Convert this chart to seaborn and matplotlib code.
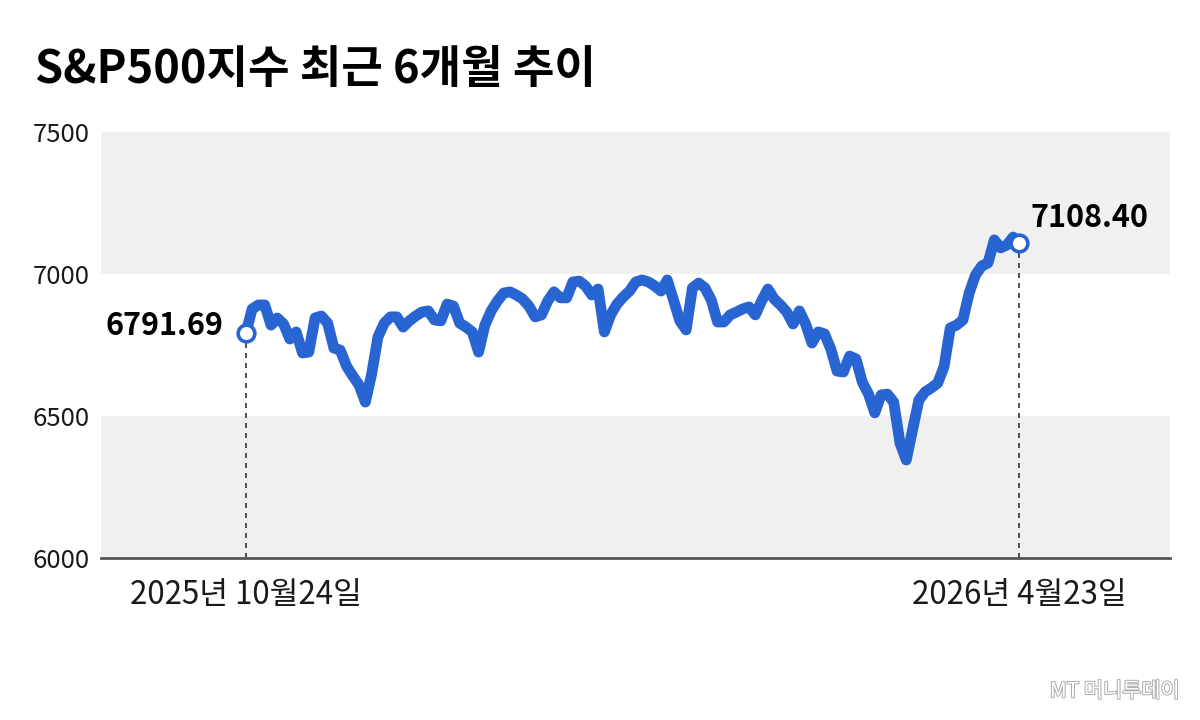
import matplotlib
matplotlib.use("Agg")
import matplotlib.pyplot as plt
import matplotlib.patheffects as pe
import seaborn as sns
import numpy as np
import pandas as pd

# S&P500 closes, one per trading day
close = [
    6791.69, 6877, 6891, 6891, 6820, 6845, 6824, 6771, 6796, 6722,
    6725, 6845, 6852, 6827, 6739, 6732, 6676, 6641, 6609, 6549,
    6648, 6778, 6827, 6849, 6849, 6813, 6835, 6852, 6866, 6870,
    6838, 6835, 6894, 6887, 6827, 6813, 6796, 6725, 6820, 6870,
    6905, 6933, 6937, 6926, 6912, 6887, 6849, 6856, 6905, 6937,
    6916, 6916, 6972, 6975, 6958, 6926, 6947, 6796, 6856, 6894,
    6919, 6940, 6972, 6979, 6972, 6958, 6940, 6979, 6908, 6835,
    6803, 6951, 6968, 6951, 6908, 6831, 6831, 6856, 6866, 6877,
    6884, 6856, 6905, 6947, 6912, 6891, 6866, 6824, 6870, 6824,
    6757, 6796, 6789, 6736, 6658, 6655, 6711, 6701, 6620, 6577,
    6511, 6574, 6577, 6549, 6405, 6345, 6451, 6556, 6585, 6599,
    6616, 6673, 6810, 6820, 6838, 6933, 6996, 7028, 7039, 7120,
    7092, 7102, 7130, 7108.40,
]
start_label = "2025년 10월24일"
end_label = "2026년 4월23일"
yticks = [6000, 6500, 7000, 7500]
title = "S&P500지수 최근 6개월 추이"

df = pd.DataFrame({"day": np.arange(len(close)), "close": close})
n = len(df)

sns.set_style("white")
plt.rcParams["font.family"] = ["Noto Sans CJK KR", "DejaVu Sans"]

blue = "#2864d2"
fig = plt.figure(figsize=(12, 7.2), dpi=100)
ax = fig.add_axes([0.084, 0.225, 0.891, 0.5917])

# alternating background bands
ax.axhspan(7000, 7500, color="#f0f0f0", zorder=0, lw=0)
ax.axhspan(6000, 6500, color="#f0f0f0", zorder=0, lw=0)

# dashed drop lines at first / last point
ax.vlines([0, n - 1], 6000, [close[0], close[-1]], colors="#333333",
          linestyles=(0, (3, 3)), lw=1.2, zorder=1)

sns.lineplot(data=df, x="day", y="close", color=blue, lw=7.8, ax=ax,
             zorder=3, solid_joinstyle="round", solid_capstyle="round")
ax.plot([0, n - 1], [close[0], close[-1]], "o", ms=12, mfc="white",
        mec=blue, mew=2.6, zorder=4, clip_on=False)

ax.annotate(f"{close[0]:.2f}", (0, close[0]), xytext=(-16, 5),
            textcoords="offset points", ha="right", va="center",
            fontsize=22, fontweight="bold", color="black")
ax.annotate(f"{close[-1]:.2f}", (n - 1, close[-1]), xytext=(8, 18),
            textcoords="offset points", ha="left", va="center",
            fontsize=22, fontweight="bold", color="black")

ax.set_ylim(6000, 7500)
ax.set_xlim(-0.186 * n, n - 1 + 0.193 * n)
ax.set_yticks(yticks)
ax.set_yticklabels([str(t) for t in yticks], fontsize=18.5, color="#1a1a1a")
ax.set_xticks([0, n - 1])
ax.set_xticklabels([start_label, end_label], fontsize=22.5, color="#1a1a1a")
ax.tick_params(axis="both", length=0)
ax.tick_params(axis="y", pad=8)
ax.tick_params(axis="x", pad=15)
ax.set_xlabel("")
ax.set_ylabel("")
for s in ["top", "right", "left"]:
    ax.spines[s].set_visible(False)
ax.spines["bottom"].set_color("#555555")
ax.spines["bottom"].set_linewidth(2)

fig.text(0.029, 0.903, title, fontsize=32.5, fontweight="bold",
         ha="left", va="center", color="black")

fig.text(0.983, 0.04, "MT 머니투데이", fontsize=15, ha="right", va="center",
         color="white", style="italic",
         path_effects=[pe.withStroke(linewidth=1.5, foreground="#b0b0b0")])

fig.savefig("out.png", dpi=100)
